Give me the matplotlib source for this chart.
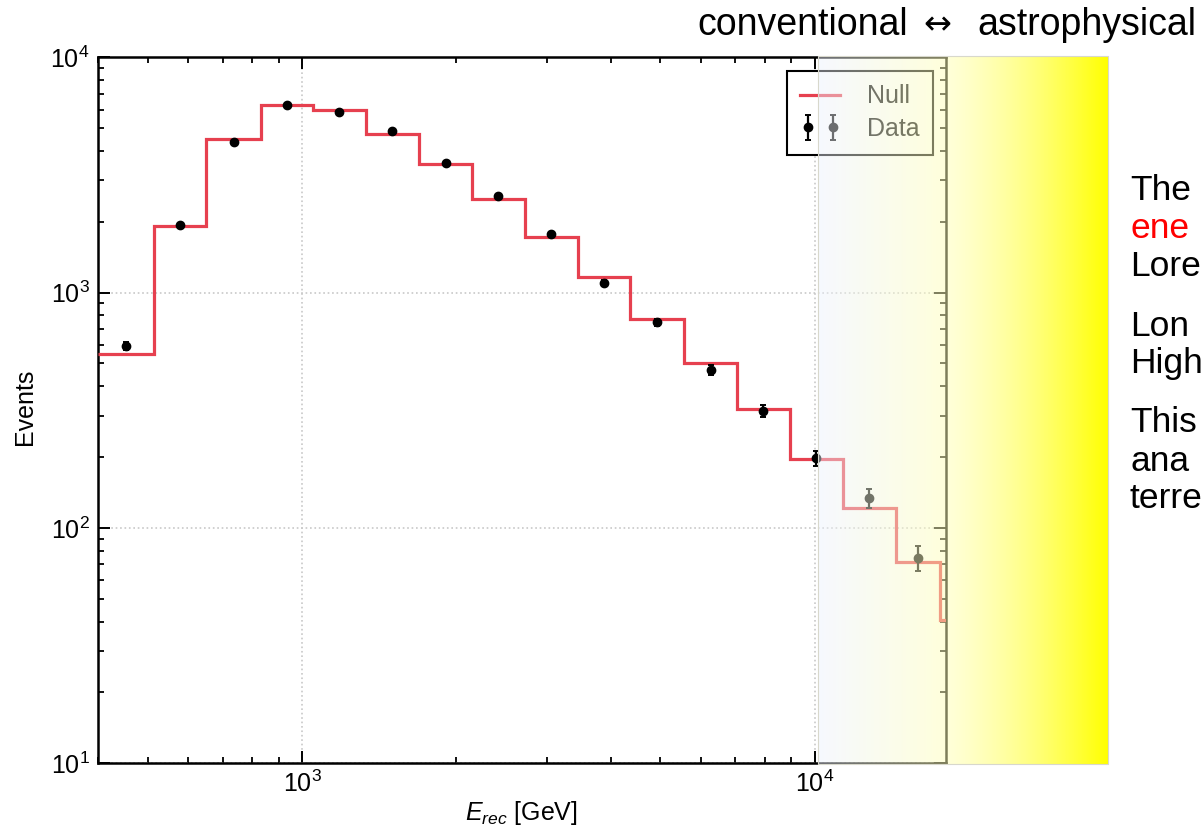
import matplotlib
matplotlib.use('Agg')
import matplotlib.pyplot as plt
import numpy as np
from matplotlib.patches import Rectangle
from matplotlib.ticker import NullFormatter

plt.rcParams['font.family'] = ['Liberation Sans', 'DejaVu Sans']
plt.rcParams['mathtext.fontset'] = 'custom'
plt.rcParams['mathtext.rm'] = 'Liberation Sans'
plt.rcParams['mathtext.it'] = 'Liberation Sans:italic'

# bin edges of the reconstructed energy (GeV)
edges_gev = [400, 514, 651, 830, 1051, 1331, 1691, 2146, 2719, 3450,
             4370, 5562, 7046, 8937, 11340, 14390, 17560, 20000]
# null hypothesis expectation per bin
null_events = [548, 1924, 4508, 6270, 5973, 4735, 3530, 2506, 1718, 1169,
               770, 500, 319, 197, 121, 71.4, 40.6]
# observed events (first 16 bins) and their errors
data_events = [593, 1936, 4378, 6290, 5870, 4861, 3544, 2567, 1770, 1095,
               748, 469, 314, 198, 134, 74.5]
data_err = [24, 44, 66, 79, 77, 70, 60, 51, 42, 33, 27, 22, 18, 14, 12, 9]

title_left, title_arrow, title_right = 'conventional', '↔', 'astrophysical'
side_lines = [('The', 'black'), ('ene', 'red'), ('Lore', 'black'),
              ('Lon', 'black'), ('High', 'black'),
              ('This', 'black'), ('ana', 'black'), ('terre', 'black')]
side_y = [190, 228, 267, 326, 364, 423, 461, 499]

W, H = 1201, 826
red = '#e6404f'
fs = 18

fig = plt.figure(figsize=(W / 100, H / 100), dpi=100)
ax = fig.add_axes([98 / W, 1 - 763.3 / H, (945.7 - 98) / W, (763.3 - 57.3) / H])

edges = np.array(edges_gev, dtype=float)
centers = np.sqrt(edges[:-1] * edges[1:])[:len(data_events)]

ax.stairs(null_events, edges, baseline=None, color=red, lw=2.3,
          label='Null', zorder=3)
ax.errorbar(centers, data_events, yerr=data_err, fmt='o', color='black',
            ms=6, elinewidth=1.6, capsize=2.5, capthick=1.4,
            label='Data', zorder=4)

ax.set_xscale('log')
ax.set_yscale('log')
ax.set_xlim(400, 18000)
ax.set_ylim(10, 1e4)
ax.xaxis.set_minor_formatter(NullFormatter())
ax.yaxis.set_minor_formatter(NullFormatter())

ax.tick_params(which='both', direction='in', top=True, right=True,
               labelsize=fs, colors='black')
ax.tick_params(which='major', length=8.6, width=1.4)
ax.tick_params(which='minor', length=4.3, width=1.3)
ax.tick_params(axis='x', pad=5)
ax.tick_params(axis='y', pad=6)
for sp in ax.spines.values():
    sp.set_linewidth(1.8)

ax.grid(True, which='major', ls=':', color='#c8c8c8', lw=1.2)
ax.set_axisbelow(True)

ax.set_ylabel('Events', fontsize=fs)
ax.yaxis.set_label_coords(-0.072, 0.505)
ax.set_xlabel(r'$E_{rec}$ [GeV]', fontsize=fs)
ax.xaxis.set_label_coords(0.499, -0.05)

leg = ax.legend(loc='upper right', bbox_to_anchor=(0.985, 0.981),
                borderaxespad=0, fontsize=fs, numpoints=2,
                handlelength=1.6, handletextpad=1.05, borderpad=0.55,
                labelspacing=0.35, fancybox=False, framealpha=1,
                edgecolor='black')
leg.get_frame().set_linewidth(1.5)

# white-to-yellow shading over the high-energy end
ov = fig.add_axes([818 / W, 1 - 764 / H, 290 / W, (764 - 56) / H], zorder=10)
t = np.linspace(0, 1, 400)
stops = [0.0, 0.441, 0.75, 1.0]
rgba_stops = [(0.93, 0.95, 1.0, 0.45), (1.0, 1.0, 0.72, 0.5),
              (1.0, 1.0, 0.35, 0.8), (1.0, 1.0, 0.0, 1.0)]
grad = np.zeros((2, t.size, 4))
for k in range(4):
    grad[:, :, k] = np.interp(t, stops, [c[k] for c in rgba_stops])
ov.imshow(grad, aspect='auto', extent=[0, 1, 0, 1], interpolation='bilinear')
ov.add_patch(Rectangle((0, 0), 1, 1, fill=False, ec='#d8d8cc', lw=0.8,
                       transform=ov.transAxes, clip_on=False))
ov.set_axis_off()

fig.text(697 / W, 1 - 25 / H, title_left, ha='left', va='center', fontsize=27)
fig.text(937 / W, 1 - 25 / H, title_arrow, ha='center', va='center',
         fontsize=24, family='DejaVu Sans')
fig.text(1196 / W, 1 - 25 / H, title_right, ha='right', va='center', fontsize=27)
for (s, c), y in zip(side_lines, side_y):
    fig.text(1130 / W, 1 - y / H, s, ha='left', va='center', fontsize=25.5, color=c)

fig.savefig('out.png', dpi=100)
